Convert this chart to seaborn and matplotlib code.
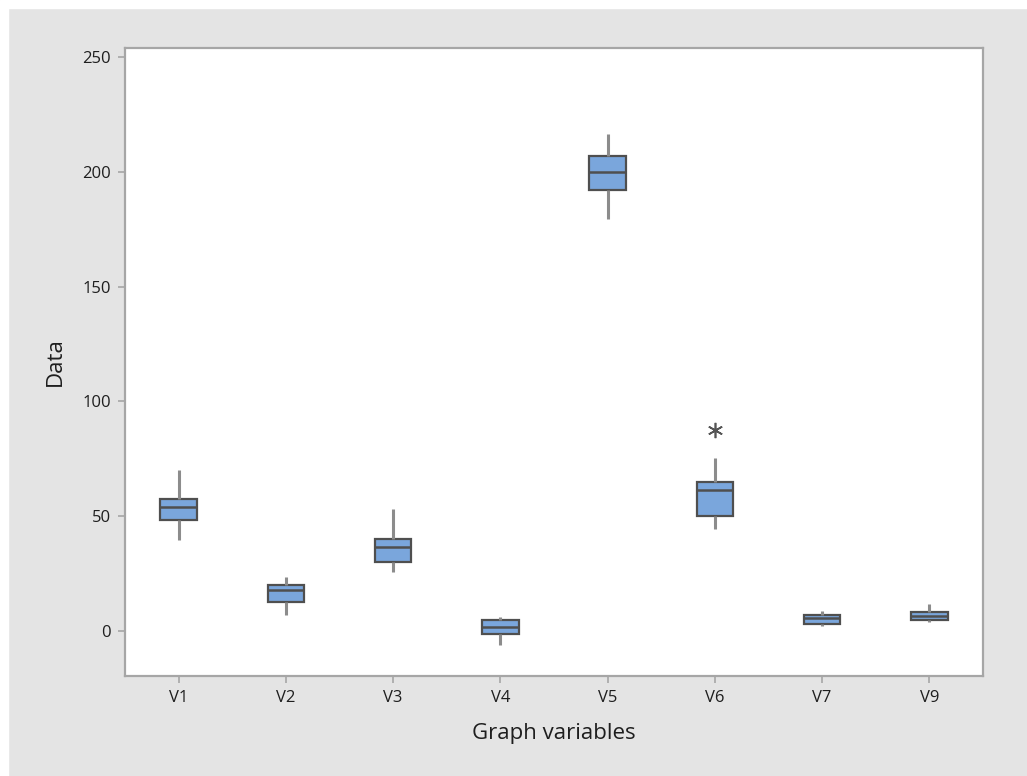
import matplotlib
matplotlib.use("Agg")
import numpy as np
import pandas as pd
import seaborn as sns
import matplotlib.pyplot as plt
from matplotlib.patches import Rectangle

# summary stats
variables = ["V1", "V2", "V3", "V4", "V5", "V6", "V7", "V9"]
whisker_low = [39.7, 7.0, 25.6, -6.2, 179.6, 44.4, 1.9, 3.6]
q1 = [48.1, 12.5, 30.1, -1.4, 192.0, 50.2, 3.1, 4.5]
median = [54.0, 17.9, 36.5, 1.6, 200.1, 61.2, 5.5, 6.5]
q3 = [57.4, 19.8, 40.0, 4.7, 207.2, 64.7, 7.0, 8.3]
whisker_high = [69.9, 23.4, 53.2, 5.9, 216.8, 75.3, 8.4, 11.8]
outliers = {"V6": [87.7]}

# build a small sample per variable that reproduces those box stats (9 points -> exact quartiles)
rows = []
for i, v in enumerate(variables):
    vals = [whisker_low[i], q1[i], q1[i], median[i], median[i], q3[i], q3[i], whisker_high[i]]
    vals += outliers.get(v, [whisker_high[i]])
    rows += [(v, x) for x in vals]
df = pd.DataFrame(rows, columns=["variable", "value"])

sns.set_theme(style="white")
plt.rcParams["font.family"] = ["Open Sans", "DejaVu Sans"]

bg = "#E4E4E4"
edge = "#A6A6A6"
fig = plt.figure(figsize=(10.27, 7.76), dpi=100, facecolor=bg)
# white strips of the screenshot border
fig.patches.append(Rectangle((0, 0), 8 / 1027, 1, transform=fig.transFigure, color="white", zorder=-1))
fig.patches.append(Rectangle((0, 1 - 8 / 776), 1, 8 / 776, transform=fig.transFigure, color="white", zorder=-1))

ax = fig.add_axes([125 / 1027, 1 - 676 / 776, (983 - 125) / 1027, (676 - 48) / 776])
ax.set_facecolor("white")

sns.boxplot(data=df, x="variable", y="value", order=variables, ax=ax,
            width=0.34, color="#7AA6DC", saturation=1, linecolor="#4F4F4F", linewidth=1.6,
            showcaps=False,
            whiskerprops=dict(color="#8C8C8C", linewidth=2.2),
            medianprops=dict(color="#4F4F4F", linewidth=1.8),
            flierprops=dict(marker=(6, 2, 0), markersize=11, markeredgecolor="#555555",
                            markerfacecolor="#555555", markeredgewidth=1.2))

ax.set_xlim(-0.5, 7.5)
ax.set_ylim(-19.75, 254.1)
ax.set_yticks([0, 50, 100, 150, 200, 250])

for s in ax.spines.values():
    s.set_visible(True)
    s.set_color(edge)
    s.set_linewidth(1.6)
ax.tick_params(axis="both", length=5, width=1.2, color=edge, labelsize=12, labelcolor="#1E1E1E",
               direction="out", left=True, bottom=True, pad=5)

ax.set_xlabel("Graph variables", fontsize=16, color="#1E1E1E", labelpad=12)
ax.set_ylabel("Data", fontsize=16, color="#1E1E1E", labelpad=12)

fig.savefig("out.png", dpi=100, facecolor=fig.get_facecolor())
plt.close(fig)
